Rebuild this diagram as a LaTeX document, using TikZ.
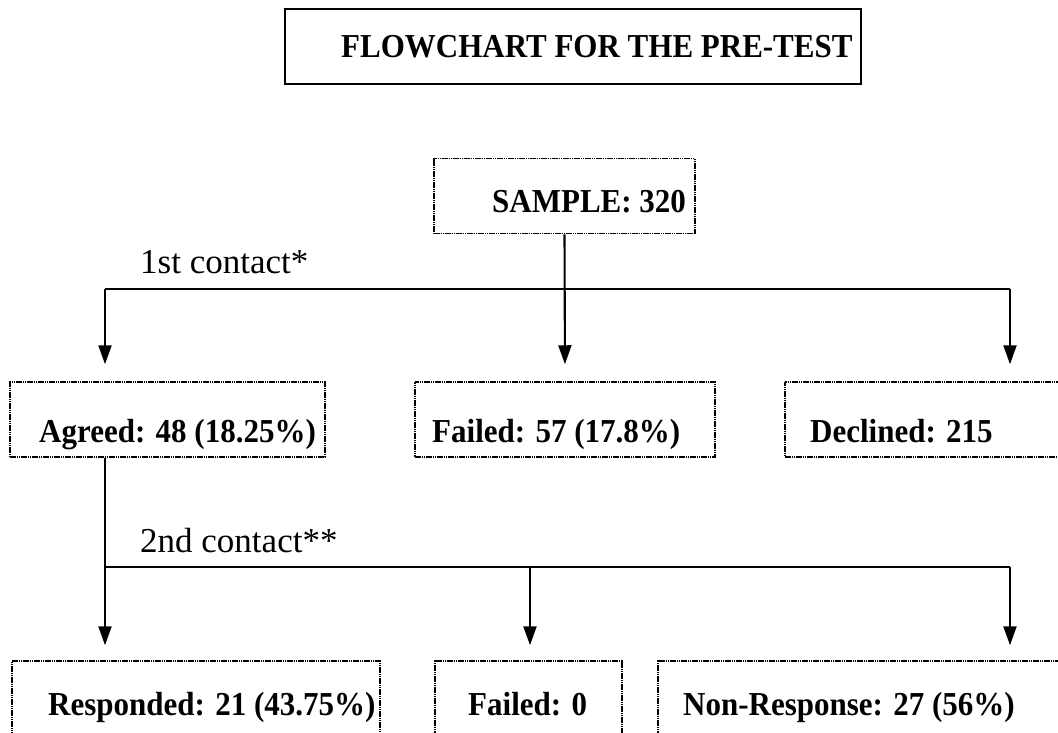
\documentclass[tikz,border=0pt]{standalone}
\usepackage{fontspec}
\setmainfont{Liberation Serif}
\usetikzlibrary{arrows.meta}
\newcommand\tallbox[1]{\scalebox{1}[1.08]{#1}}
\begin{document}
\begin{tikzpicture}[x=1pt,y=-1pt,
  boxx/.style={draw, dash pattern=on 1.6pt off 0.6pt, line width=1.5pt, inner sep=0pt},
  titlebox/.style={draw, line width=2.6pt, inner sep=0pt},
  lbl/.style={font=\fontsize{31}{36}\selectfont\bfseries, anchor=base west, inner sep=0pt},
  contactlbl/.style={font=\fontsize{35}{40}\selectfont, anchor=base west, inner sep=0pt},
  conn/.style={line width=2.1pt},
  arr/.style={conn, -{Triangle[length=19pt,width=13pt]}}]
\useasboundingbox (0,0) rectangle (1058,732);

% title
\node[titlebox, minimum width=576pt, minimum height=75pt] (title) at (573,46.5) {};
\node[lbl] (titletext) at (341,57) {\tallbox{FLOWCHART FOR THE PRE-TEST}};

% sample
\node[boxx, minimum width=261pt, minimum height=75pt] (sample) at (564.5,196) {};
\node[lbl] (sampletext) at (492,212) {\tallbox{SAMPLE: 320}};

% first level
\node[boxx, minimum width=315pt, minimum height=75pt] (agreed) at (167.5,419.5) {};
\node[lbl] (agreedtext) at (39,442) {\tallbox{Agreed: 48 (18.25\%)}};
\node[boxx, minimum width=300pt, minimum height=75pt] (failedA) at (565,419.5) {};
\node[lbl] (failedAtext) at (432,442) {\tallbox{Failed: 57 (17.8\%)}};
\node[boxx, minimum width=277pt, minimum height=75pt] (declined) at (923.5,419.5) {};
\node[lbl] (declinedtext) at (810,442) {\tallbox{Declined: 215}};

% second level
\node[boxx, minimum width=368pt, minimum height=84pt] (responded) at (196,703) {};
\node[lbl] (respondedtext) at (48,715) {\tallbox{Responded: 21 (43.75\%)}};
\node[boxx, minimum width=187pt, minimum height=84pt] (failedB) at (528.5,703) {};
\node[lbl] (failedBtext) at (468,715) {\tallbox{Failed: 0}};
\node[boxx, minimum width=407pt, minimum height=84pt] (nonresp) at (861.5,703) {};
\node[lbl] (nonresptext) at (683,715) {\tallbox{Non-Response: 27 (56\%)}};

% contact labels
\node[contactlbl] (c1) at (140,273) {1st contact*};
\node[contactlbl] (c2) at (140,552) {2nd contact**};

% first contact connectors
\coordinate (h1l) at (105,289);
\coordinate (h1r) at (1010,289);
\draw[conn] (h1l) -- (h1r);
\draw[arr, shorten >=17pt] (sample.south) -- (failedA.north);
\draw[arr, shorten >=17pt] (h1l) -- (h1l |- agreed.north);
\draw[arr, shorten >=17pt] (h1r) -- (h1r |- declined.north);

% second contact connectors
\coordinate (h2l) at (105,567);
\coordinate (h2m) at (530,567);
\coordinate (h2r) at (1010,567);
\draw[conn] (h2l) -- (h2r);
\draw[arr, shorten >=15pt] (agreed.south -| h2l) -- (h2l |- responded.north);
\draw[arr, shorten >=15pt] (h2m) -- (h2m |- failedB.north);
\draw[arr, shorten >=15pt] (h2r) -- (h2r |- nonresp.north);
\end{tikzpicture}
\end{document}
